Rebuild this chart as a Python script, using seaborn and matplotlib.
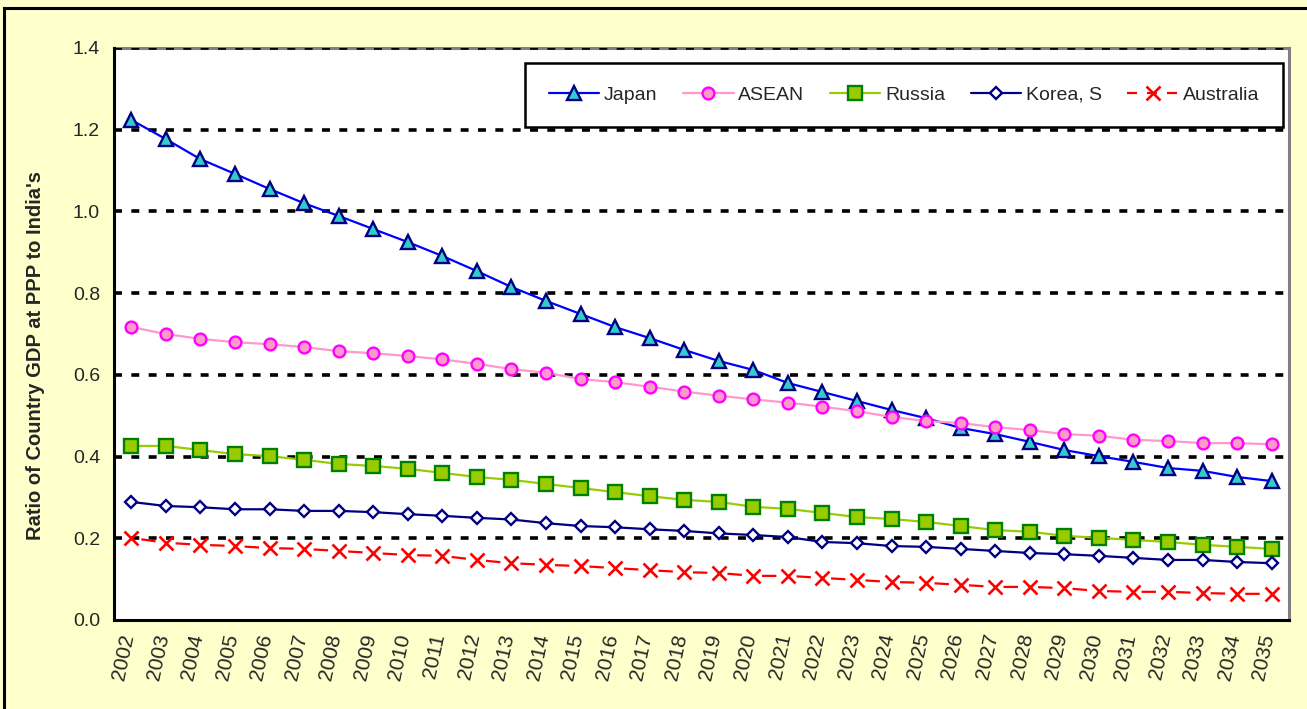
import numpy as np
import pandas as pd
import matplotlib
matplotlib.use('Agg')
import matplotlib.pyplot as plt
import matplotlib.transforms as mtransforms
import seaborn as sns

# Data
years = [str(y) for y in range(2002, 2036)]
japan = [1.224, 1.177, 1.128, 1.092, 1.055, 1.020, 0.989, 0.957, 0.925, 0.891,
         0.854, 0.815, 0.781, 0.749, 0.717, 0.690, 0.661, 0.634, 0.612, 0.580,
         0.558, 0.536, 0.514, 0.494, 0.470, 0.455, 0.436, 0.416, 0.401, 0.387,
         0.372, 0.365, 0.350, 0.340]
asean = [0.717, 0.700, 0.688, 0.680, 0.675, 0.668, 0.658, 0.653, 0.646, 0.638,
         0.627, 0.614, 0.605, 0.590, 0.582, 0.571, 0.559, 0.549, 0.540, 0.532,
         0.522, 0.511, 0.497, 0.487, 0.482, 0.472, 0.465, 0.455, 0.451, 0.441,
         0.438, 0.433, 0.433, 0.430]
russia = [0.426, 0.426, 0.416, 0.406, 0.401, 0.392, 0.382, 0.377, 0.370, 0.360,
          0.350, 0.343, 0.333, 0.323, 0.313, 0.303, 0.294, 0.289, 0.277, 0.272,
          0.262, 0.252, 0.247, 0.240, 0.230, 0.220, 0.216, 0.206, 0.201, 0.196,
          0.191, 0.184, 0.179, 0.174]
korea = [0.289, 0.279, 0.276, 0.271, 0.271, 0.267, 0.267, 0.264, 0.259, 0.255,
         0.250, 0.246, 0.237, 0.230, 0.227, 0.222, 0.218, 0.212, 0.208, 0.203,
         0.191, 0.188, 0.181, 0.179, 0.174, 0.169, 0.164, 0.161, 0.157, 0.152,
         0.147, 0.147, 0.142, 0.139]
australia = [0.201, 0.189, 0.184, 0.181, 0.176, 0.174, 0.169, 0.164, 0.159, 0.157,
             0.147, 0.139, 0.135, 0.132, 0.127, 0.122, 0.117, 0.115, 0.108, 0.108,
             0.103, 0.098, 0.093, 0.091, 0.086, 0.081, 0.081, 0.078, 0.071, 0.069,
             0.069, 0.066, 0.064, 0.064]

series = {'Japan': japan, 'ASEAN': asean, 'Russia': russia,
          'Korea, S': korea, 'Australia': australia}
df = pd.DataFrame({'pos': np.arange(len(years)), **series})
long_df = df.melt(id_vars='pos', var_name='country', value_name='ratio')

# australia: short dash centred between markers
aus_dash = (11.0, (6.5, 9.05))

styles = {
    'Japan':     dict(color='#0000FF', marker='^', mfc='#33CCCC', mec='#000080', ms=10, ls='-'),
    'ASEAN':     dict(color='#FF99CC', marker='o', mfc='#FF99CC', mec='#FF00FF', ms=8.5, ls='-'),
    'Russia':    dict(color='#99CC00', marker='s', mfc='#99CC00', mec='#008000', ms=9.5, ls='-'),
    'Korea, S':  dict(color='#000080', marker='D', mfc='white', mec='#000080', ms=6.5, ls='-'),
    'Australia': dict(color='#FF0000', marker='x', mfc='#FF0000', mec='#FF0000', ms=10,
                      ls=aus_dash),
}

sns.set_style('white')
plt.rcParams['font.family'] = ['Liberation Sans', 'DejaVu Sans']

fig = plt.figure(figsize=(13.07, 7.09), dpi=100)
fig.patch.set_facecolor('#FFFFCC')
# outer chart frame (top and left edges visible)
fig.add_artist(plt.Rectangle((4 / 1307, -0.05), 1.2, 0.05 + 1 - 8 / 709,
                             transform=fig.transFigure, fill=False,
                             edgecolor='black', lw=2.2))

ax = fig.add_axes([114 / 1307, 1 - 620 / 709, (1289 - 114) / 1307, (620 - 48) / 709])
ax.set_facecolor('white')

for name in series:
    st = styles[name]
    sns.lineplot(data=long_df[long_df['country'] == name], x='pos', y='ratio',
                 ax=ax, color=st['color'], linestyle=st['ls'], lw=1.6,
                 marker=st['marker'], markersize=st['ms'],
                 markerfacecolor=st['mfc'], markeredgecolor=st['mec'],
                 markeredgewidth=1.7 if st['marker'] != 'x' else 1.9,
                 label=name, zorder=3)

ax.set_xlim(-0.5, len(years) - 0.5)
ax.set_ylim(0, 1.4)
ax.set_yticks(np.arange(0, 1.41, 0.2))
ax.set_yticklabels([f'{v:.1f}' for v in np.arange(0, 1.41, 0.2)], fontsize=14)

# dotted gridlines
for v in np.arange(0.2, 1.41, 0.2):
    ax.axhline(v, color='black', lw=2.6, linestyle=(0, (2.2, 2.6)), zorder=2.5)

# tick marks between categories, labels on categories
ax.set_xticks(np.arange(-0.5, len(years)), labels=[''] * (len(years) + 1))
ax.set_xticks(np.arange(len(years)), labels=years, minor=True)
ax.tick_params(axis='x', which='major', direction='out', length=6, width=1.8, color='black')
ax.tick_params(axis='x', which='minor', length=0, pad=10, labelsize=15)
ax.tick_params(axis='y', direction='out', length=6, width=1.8, color='black', pad=4)
offset = mtransforms.ScaledTranslation(-0.03, 0, fig.dpi_scale_trans)
for lbl in ax.get_xticklabels(minor=True):
    lbl.set_rotation(78)
    lbl.set_rotation_mode('anchor')
    lbl.set_ha('right')
    lbl.set_va('center')
    lbl.set_transform(lbl.get_transform() + offset)

for side in ['left', 'bottom']:
    ax.spines[side].set_color('black')
    ax.spines[side].set_linewidth(2.2)
for side in ['top', 'right']:
    ax.spines[side].set_color('#808080')
    ax.spines[side].set_linewidth(2.2)
ax.spines['top'].set_zorder(2)

ax.set_xlabel('')
ax.set_ylabel("Ratio of Country GDP at PPP to India's", fontsize=14.5,
              fontweight='bold')
ax.yaxis.set_label_coords(-0.0587, 0.463)

leg = ax.legend(loc='upper right', bbox_to_anchor=(0.9945, 0.974), ncol=5,
                frameon=True, fancybox=False, fontsize=14, handlelength=2.6,
                handletextpad=0.25, columnspacing=1.3, borderpad=1.2,
                borderaxespad=0)
leg.get_frame().set_edgecolor('black')
leg.get_frame().set_linewidth(1.8)
leg.get_frame().set_facecolor('white')
leg.get_frame().set_alpha(1)
leg.get_lines()[4].set_linestyle((0, (4.5, 4.5)))

plt.savefig('out.png', dpi=100, facecolor=fig.get_facecolor())
